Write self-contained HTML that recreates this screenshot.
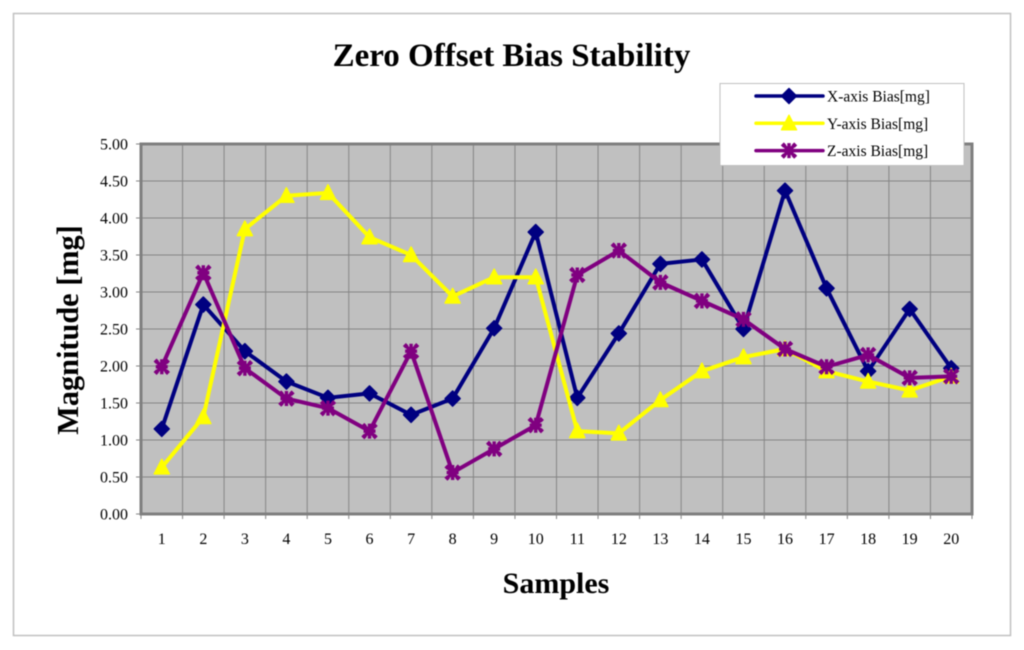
<!DOCTYPE html>
<html>
<head>
<meta charset="utf-8">
<title>Zero Offset Bias Stability</title>
<style>
html,body{margin:0;padding:0;background:#fff;}
svg{display:block;filter:blur(0.4px);}
text{font-family:"Liberation Serif",serif;fill:#000;}
</style>
</head>
<body>
<svg id="chart" width="1024" height="650" viewBox="0 0 1024 650" xmlns="http://www.w3.org/2000/svg">
<rect x="13.5" y="13.5" width="997" height="622" fill="#fff" stroke="#c0c0c0" stroke-width="1.5"/>
<text x="511.5" y="66" font-size="33" font-weight="bold" text-anchor="middle">Zero Offset Bias Stability</text>
<text transform="translate(78,330) rotate(-90)" font-size="30.3" font-weight="bold" text-anchor="middle">Magnitude [mg]</text>
<text x="556" y="593" font-size="30" font-weight="bold" text-anchor="middle">Samples</text>
<g id="plot"></g>
<g id="legend"></g>
</svg>
<script>
const categories = [1,2,3,4,5,6,7,8,9,10,11,12,13,14,15,16,17,18,19,20];
const tickLabels = ["0.00","0.50","1.00","1.50","2.00","2.50","3.00","3.50","4.00","4.50","5.00"];
const xBias = [1.15,2.83,2.20,1.79,1.57,1.63,1.34,1.56,2.51,3.81,1.57,2.44,3.38,3.44,2.50,4.37,3.05,1.93,2.77,1.97];
const yBias = [0.63,1.31,3.85,4.30,4.34,3.74,3.50,2.94,3.20,3.20,1.12,1.09,1.54,1.93,2.12,2.23,1.93,1.79,1.67,1.86];
const zBias = [1.99,3.26,1.97,1.56,1.43,1.12,2.20,0.56,0.88,1.20,3.23,3.56,3.13,2.88,2.63,2.23,1.99,2.15,1.84,1.86];
const seriesNames = ["X-axis Bias[mg]","Y-axis Bias[mg]","Z-axis Bias[mg]"];

const NS = "http://www.w3.org/2000/svg";
const L = 141, R = 972, T = 144, B = 514, YMAX = 5;
const plot = document.getElementById("plot");
const legend = document.getElementById("legend");
const slot = (R - L) / categories.length;
const sx = i => L + slot * (i + 0.5);
const sy = v => B - (v / YMAX) * (B - T);

function mk(parent, tag, attrs, text) {
  const el = document.createElementNS(NS, tag);
  for (const k in attrs) el.setAttribute(k, attrs[k]);
  if (text !== undefined) el.textContent = text;
  parent.appendChild(el);
  return el;
}

function marker(parent, kind, x, y, color) {
  if (kind === "diamond") {
    const el = mk(parent, "path", {d:`M${x} ${y-7.5}L${x+7.5} ${y}L${x} ${y+7.5}L${x-7.5} ${y}Z`, fill:color, stroke:color, "stroke-width":1.5, "stroke-linejoin":"round"});
    
    
  } else if (kind === "triangle") {
    const el = mk(parent, "path", {d:`M${x} ${y-8}L${x+7.5} ${y+6.5}L${x-7.5} ${y+6.5}Z`, fill:color, stroke:color, "stroke-width":1.5, "stroke-linejoin":"round"});
    
    
  } else {
    const el = mk(parent, "path", {d:`M${x-6} ${y-6}L${x+6} ${y+6}M${x+6} ${y-6}L${x-6} ${y+6}M${x-6} ${y}L${x+6} ${y}M${x} ${y-7.5}L${x} ${y+7.5}M${x-4} ${y-7}L${x-7} ${y-4}M${x+4} ${y-7}L${x+7} ${y-4}M${x-4} ${y+7}L${x-7} ${y+4}M${x+4} ${y+7}L${x+7} ${y+4}`, fill:"none", stroke:color, "stroke-width":3.4});
    
    
  }
}

const bg = mk(plot, "rect", {x:L, y:T, width:R-L, height:B-T, fill:"#c0c0c0"});



tickLabels.forEach((lab, i) => {
  const v = parseFloat(lab), y = sy(v);
  if (i > 0 && i < tickLabels.length - 1) {
    const g = mk(plot, "line", {x1:L, x2:R, y1:y, y2:y, stroke:"#858585", "stroke-width":1});
    
    
  }
  const t = mk(plot, "line", {x1:L-5, x2:L, y1:y, y2:y, stroke:"#858585", "stroke-width":1});
  
  
  const tx = mk(plot, "text", {x:L-13, y:y+5.5, "font-size":16, "text-anchor":"end"}, lab);
  
  
});

for (let i = 0; i <= categories.length; i++) {
  const x = L + slot * i;
  if (i > 0 && i < categories.length) {
    const g = mk(plot, "line", {x1:x, x2:x, y1:T, y2:B, stroke:"#858585", "stroke-width":1});
    
    
  }
  const t = mk(plot, "line", {x1:x, x2:x, y1:B, y2:B+5, stroke:"#858585", "stroke-width":1});
  
  
}
categories.forEach((c, i) => {
  const tx = mk(plot, "text", {x:sx(i), y:B+30, "font-size":16, "text-anchor":"middle"}, c);
  
  
});

const frame = mk(plot, "path", {d:`M${L} ${B}V${T}H${R}V${B}Z`, fill:"none", stroke:"#7f7f7f", "stroke-width":3});



const seriesList = [
  {values:xBias, color:"#000080", kind:"diamond"},
  {values:yBias, color:"#ffff00", kind:"triangle"},
  {values:zBias, color:"#800080", kind:"star"}
];
seriesList.forEach((s, n) => {
  const g = mk(plot, "g", {});
  
  
  const pts = s.values.map((v, i) => sx(i) + "," + sy(v)).join(" ");
  const line = mk(g, "polyline", {points:pts, fill:"none", stroke:s.color, "stroke-width":4, "stroke-linejoin":"round"});
  
  
  s.values.forEach((v, i) => marker(g, s.kind, sx(i), sy(v), s.color));
});

const box = mk(legend, "rect", {x:720, y:83.5, width:244, height:82, fill:"#fff", stroke:"#c0c0c0", "stroke-width":1});


seriesNames.forEach((name, i) => {
  const y = 96 + i * 27.3;
  const s = seriesList[i];
  const g = mk(legend, "g", {});
  
  
  mk(g, "line", {x1:756, x2:823, y1:y, y2:y, stroke:s.color, "stroke-width":3.5, "stroke-linecap":"round"});
  marker(g, s.kind, 789, y, s.color);
  const t = mk(g, "text", {x:827, y:y+5.5, "font-size":15.5}, name);
  
  
});
</script>
</body>
</html>
